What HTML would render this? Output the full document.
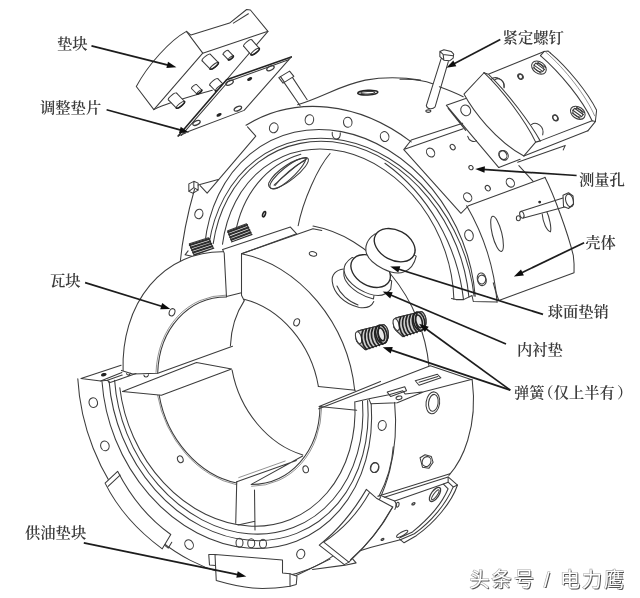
<!DOCTYPE html>
<html lang="zh"><head><meta charset="utf-8"><title>轴承结构图</title>
<style>
html,body{margin:0;padding:0;background:#fff}
svg{display:block}
.l path,.l ellipse,.l circle,.l line,.l polyline,.l polygon,.l rect{fill:none;stroke:#3c3c3c;stroke-width:1.05;vector-effect:non-scaling-stroke;stroke-linecap:round;stroke-linejoin:round}
.l .w{fill:#fff}
.l .k{stroke:#222;stroke-width:1.6}
.l .t{stroke-width:0.7;stroke:#666}
.lab{font-family:"Liberation Serif","Noto Serif CJK SC",serif;font-size:15.3px;font-weight:600;fill:#3a3a3a}
.wm{font-family:"Liberation Sans","Noto Sans CJK SC",sans-serif;font-size:20px}
</style></head><body>
<svg width="640" height="598" viewBox="0 0 640 598">
<rect width="640" height="598" fill="#fff"/>
<defs><filter id="lb" x="0" y="0" width="100%" height="100%"><feGaussianBlur stdDeviation="0.35"/></filter></defs>
<g class="l" filter="url(#lb)">
<g transform="translate(0,0) scale(1.00000,1.00000)">
<path d="M246.0,125.3 A190.0,154.0 -113.4 0 1 411.2,141.9"/>
<path d="M466.7,205.8 A190.0,154.0 -113.4 0 1 497.1,302.1"/>
<path d="M194.6,189 C188.5,210 182.5,238 180,264"/>
<path d="M204.7,244.6 A161.3,130.7 -113.4 0 1 475.2,296.2"/>
<path d="M209.0,243.9 A159.0,128.9 -113.4 0 1 474.1,296.1"/>
<path d="M213.2,243.6 A153.1,124.1 -113.4 0 1 468.9,297.0"/>
<path d="M222.5,244.2 A137.9,111.8 -113.4 0 1 453.9,299.3"/>
<path d="M235.1,234.7 A129.3,104.8 -113.4 0 1 300.8,154.3"/>
<path d="M384.9,163.2 A164.3,133.2 -113.4 0 1 463.5,299.6"/>
<path d="M451.5,298.6 L456,299.6 L463.5,299.6 L472,295.5 L473.3,301.5 L497,302"/>
</g>
<g transform="translate(120,0) scale(0.25078,0.25084)">
<path d="M265,125 C200,160 110,260 65,345 L135,437 L330,212 Z"/>
<path d="M265,125 L283,140 L437,92 L505,38 L520,40 L590,125 L330,212"/>
<path d="M452,92 L512,55"/>
<path d="M135,437 C200,405 300,380 368,360"/>
<path d="M590,125 L425,318"/>
</g>
<g transform="translate(0,0) scale(1.00000,1.00000)">
<g style="stroke-width:1.25">
<ellipse class="w" cx="206.3" cy="57.6" rx="5.3" ry="1.5" transform="rotate(-38.5 206.3 57.6)"/>
<path class="w" style="stroke:none" d="M210.4,54.3 L202.2,60.9 L210.2,69.2 L218.4,62.6 Z"/>
<path d="M210.4,54.3 L218.4,62.6 M202.2,60.9 L210.2,69.2"/>
<ellipse class="w" cx="214.3" cy="65.9" rx="5.3" ry="1.5" transform="rotate(-38.5 214.3 65.9)"/>
<path class="k" d="M218.4,62.6 A5.3,1.5 -38.5 0 1 210.2,69.2"/>
<ellipse class="w" cx="225.6" cy="52.4" rx="3.1" ry="0.9" transform="rotate(-38.5 225.6 52.4)"/>
<path class="w" style="stroke:none" d="M228.1,50.4 L223.1,54.4 L228.4,59.9 L233.4,55.9 Z"/>
<path d="M228.1,50.4 L233.4,55.9 M223.1,54.4 L228.4,59.9"/>
<ellipse class="w" cx="230.9" cy="57.9" rx="3.1" ry="0.9" transform="rotate(-38.5 230.9 57.9)"/>
<path class="k" d="M233.4,55.9 A3.1,0.9 -38.5 0 1 228.4,59.9"/>
<ellipse class="w" cx="247.7" cy="43.0" rx="5.2" ry="1.5" transform="rotate(-38.5 247.7 43.0)"/>
<path class="w" style="stroke:none" d="M251.8,39.8 L243.6,46.2 L251.1,54.8 L259.3,48.4 Z"/>
<path d="M251.8,39.8 L259.3,48.4 M243.6,46.2 L251.1,54.8"/>
<ellipse class="w" cx="255.2" cy="51.6" rx="5.2" ry="1.5" transform="rotate(-38.5 255.2 51.6)"/>
<path class="k" d="M259.3,48.4 A5.2,1.5 -38.5 0 1 251.1,54.8"/>
<ellipse class="w" cx="172.5" cy="96.5" rx="5.3" ry="1.5" transform="rotate(-38.5 172.5 96.5)"/>
<path class="w" style="stroke:none" d="M176.6,93.2 L168.4,99.8 L176.4,108.1 L184.6,101.5 Z"/>
<path d="M176.6,93.2 L184.6,101.5 M168.4,99.8 L176.4,108.1"/>
<ellipse class="w" cx="180.5" cy="104.8" rx="5.3" ry="1.5" transform="rotate(-38.5 180.5 104.8)"/>
<path class="k" d="M184.6,101.5 A5.3,1.5 -38.5 0 1 176.4,108.1"/>
<ellipse class="w" cx="194.0" cy="86.5" rx="3.1" ry="0.9" transform="rotate(-38.5 194.0 86.5)"/>
<path class="w" style="stroke:none" d="M196.5,84.5 L191.5,88.5 L196.8,94.0 L201.8,90.0 Z"/>
<path d="M196.5,84.5 L201.8,90.0 M191.5,88.5 L196.8,94.0"/>
<ellipse class="w" cx="199.3" cy="92.0" rx="3.1" ry="0.9" transform="rotate(-38.5 199.3 92.0)"/>
<path class="k" d="M201.8,90.0 A3.1,0.9 -38.5 0 1 196.8,94.0"/>
<ellipse class="w" cx="213.8" cy="81.9" rx="5.1" ry="1.4" transform="rotate(-38.5 213.8 81.9)"/>
<path class="w" style="stroke:none" d="M217.8,78.7 L209.8,85.1 L215.5,91.0 L223.5,84.6 Z"/>
<path d="M217.8,78.7 L223.5,84.6 M209.8,85.1 L215.5,91.0"/>
<ellipse class="w" cx="219.5" cy="87.8" rx="5.1" ry="1.4" transform="rotate(-38.5 219.5 87.8)"/>
<path class="k" d="M223.5,84.6 A5.1,1.4 -38.5 0 1 215.5,91.0"/>
</g>
</g>
<g transform="translate(120,0) scale(0.25078,0.25084)">
<path class="w" style="stroke:none" d="M232,542 L425,318 L683,227 L495,440 L270,525 Z"/>
<!-- shim -->
<path class="k" d="M232,542 L425,318 L683,227"/>
<path d="M245,540 L432,325 L672,238"/>
<path d="M232,542 L262,530"/>
<path d="M270,525 L495,440 L683,227"/>
<ellipse style="stroke-width:1.3" cx="437" cy="330" rx="16" ry="8" transform="rotate(-28 437 330)"/>
<ellipse style="stroke-width:1.3" cx="600" cy="272" rx="16" ry="8" transform="rotate(-28 600 272)"/>
<ellipse style="stroke-width:1.3" cx="305" cy="490" rx="16" ry="8" transform="rotate(-28 305 490)"/>
<ellipse style="stroke-width:1.3" cx="470" cy="433" rx="16" ry="8" transform="rotate(-28 470 433)"/>
<ellipse class="k" cx="517" cy="315" rx="8" ry="3" transform="rotate(-28 517 315)"/>
<ellipse class="k" cx="395" cy="458" rx="8" ry="3" transform="rotate(-28 395 458)"/>
</g>
<g transform="translate(260,40) scale(0.25078,0.25084)">
<!-- bolt -->
<path d="M75,150 L118,124 L135,145 L92,172 Z M82,146 L97,168 M95,168 L160,262 M130,150 L188,238"/>
<!-- body top silhouette -->
<path d="M150,258 C250,228 320,180 420,160 C490,147 570,148 640,160"/>
<ellipse class="k" cx="430" cy="210" rx="40" ry="9" transform="rotate(-3 430 210)"/>
<ellipse cx="430" cy="210" rx="28" ry="5" transform="rotate(-3 430 210)"/>
<!-- flange outer arc -->
<!-- holes -->
<ellipse cx="55" cy="350" rx="17" ry="20" transform="rotate(15 55 350)"/>
<ellipse cx="197" cy="318" rx="17" ry="20" transform="rotate(10 197 318)"/>
<ellipse cx="350" cy="328" rx="17" ry="20" transform="rotate(-5 350 328)"/>
<ellipse cx="497" cy="385" rx="17" ry="20" transform="rotate(-15 497 385)"/>
<path d="M288,368 C286,385 295,395 305,395 C315,395 322,385 320,370"/>
<!-- slot -->
<path d="M185,470 C140,470 60,520 35,570 C30,590 50,600 70,590 C110,570 175,510 185,470 Z"/>
<path d="M60,580 C90,540 140,500 180,480"/>
</g>
<g transform="translate(400,0) scale(0.25078,0.25084)">
<!-- bolt -->
<path d="M159,205 L175,198 L204,205 L214,216 L212,232 L199,242 L175,240 L159,226 Z M159,205 L172,217 L212,222 M172,217 L175,240 M164,234 L105,421 M193,245 L140,426 M105,421 C108,436 130,438 140,426"/>
<ellipse cx="113" cy="443" rx="10" ry="5"/>
<!-- shell silhouette -->
<path d="M0,316 C50,314 95,320 130,334 M157,346 C190,358 225,372 252,386"/>
<!-- shim plate -->
<path d="M185,420 L262,393 M185,420 L394,668 M192,432 L262,520"/>
<ellipse cx="262" cy="440" rx="19" ry="22" transform="rotate(-30 262 440)"/>
<!-- flat -->
<!-- block -->
<path d="M335,290 L255,375 C290,440 380,560 494,622"/>
<path d="M335,290 L352,296 L575,205 L590,203 L600,212"/>
<path d="M575,205 L560,222"/>
<ellipse cx="482" cy="306" rx="9" ry="11" transform="rotate(-30 482 306)"/>
<ellipse cx="620" cy="470" rx="10" ry="13" transform="rotate(-30 620 470)"/>
<path d="M378,318 C395,305 420,325 415,350"/>
</g>
<g transform="translate(480,30) scale(0.25078,0.25084)">
<path d="M281,92 C350,150 430,250 465,320 L460,365 L430,402"/>
<path d="M241,102 C320,170 410,280 447,362"/>
<path class="t" d="M262,88 C340,155 425,265 457,342"/>
<path d="M240,442 L447,362 L460,365"/>
<path d="M175,502 L430,402"/>
<path d="M16,170 C90,240 180,360 222,447 L240,442"/>
<path d="M35,178 C110,250 200,370 240,442"/>
<path d="M222,447 L175,502"/>
<path d="M45,197 C60,180 98,195 96,228"/>
<path d="M205,377 C225,362 258,385 250,418"/>
<g><ellipse cx="235" cy="150" rx="32" ry="23" transform="rotate(35 235 150)"/><ellipse cx="235" cy="150" rx="22" ry="14" transform="rotate(35 235 150)"/><path d="M215,140 L250,165 M222,132 L258,158 M212,150 L243,172 M230,128 L262,150"/></g>
<g><ellipse cx="390" cy="330" rx="32" ry="23" transform="rotate(35 390 330)"/><ellipse cx="390" cy="330" rx="22" ry="14" transform="rotate(35 390 330)"/><path d="M370,320 L405,345 M377,312 L413,338 M367,330 L398,352 M385,308 L417,330"/></g>
<ellipse cx="160" cy="185" rx="9" ry="11" transform="rotate(-30 160 185)"/>
<ellipse cx="300" cy="350" rx="9" ry="11" transform="rotate(-30 300 350)"/>
<ellipse cx="95" cy="500" rx="17" ry="20" transform="rotate(-30 95 500)"/>
<path d="M150,527 L340,460 L332,478 M75,548 L160,515"/>
</g>
<g transform="translate(400,130) scale(0.25078,0.25084)">
<!-- flat with wall -->
<path d="M15,78 L45,40 L250,-27 M15,78 L252,-5 M15,78 L243,332 L273,302 L578,189"/>
<path d="M474,142 L531,205"/>
<ellipse cx="122" cy="90" rx="15" ry="19" transform="rotate(-35 122 90)"/>
<ellipse cx="210" cy="68" rx="9" ry="12" transform="rotate(-35 210 68)"/>
<ellipse cx="283" cy="150" rx="8" ry="9" transform="rotate(-35 283 150)"/>
<ellipse cx="270" cy="268" rx="15" ry="19" transform="rotate(-35 270 268)"/>
<ellipse cx="350" cy="232" rx="9" ry="12" transform="rotate(-35 350 232)"/>
<ellipse cx="440" cy="210" rx="15" ry="19" transform="rotate(-35 440 210)"/>
<ellipse cx="410" cy="100" rx="15" ry="19" transform="rotate(-35 410 100)"/>
<path d="M270,25 C275,45 295,50 305,42"/>
<!-- flange right side -->
<ellipse cx="275" cy="420" rx="17" ry="22" transform="rotate(-15 275 420)"/>
<ellipse cx="325" cy="592" rx="17" ry="22" transform="rotate(-10 325 592)"/>
<!-- slots -->
<ellipse cx="387" cy="414" rx="19" ry="72" transform="rotate(-14 387 414)"/>
<path d="M567,335 C570,370 585,400 600,406 C605,390 595,345 585,325"/>
<!-- side bolt -->
<path class="w" d="M481,325 L653,270 L660,306 L492,351 Z"/>
<ellipse class="w" cx="486" cy="338" rx="8" ry="14" transform="rotate(-18 486 338)"/>
<ellipse cx="472" cy="352" rx="8" ry="10"/>
<path class="w" d="M650,260 L672,250 L690,263 L692,295 L672,313 L652,305 Z"/>
<ellipse cx="676" cy="281" rx="15" ry="26" transform="rotate(-15 676 281)"/>
</g>
<g transform="translate(480,170) scale(0.25078,0.25084)">
<path d="M259,29 C295,100 350,250 372,340 C376,370 376,390 375,410 L75,520"/>
<path d="M53,450 C60,480 68,500 75,520"/>
<circle cx="238" cy="128" r="2.5" class="k"/>
<ellipse cx="8" cy="440" rx="17" ry="21" transform="rotate(-10 8 440)"/>
</g>
<g transform="translate(160,150) scale(0.25078,0.25084)">
<!-- bolt head + V -->
<path d="M115,135 L135,125 L152,132 L152,160 L132,172 L115,165 Z M135,125 L135,150 L115,165 M135,150 L152,160"/>
<path d="M152,140 L232,118 M160,142 L188,172 L382,-55 L349,-92"/>
<ellipse cx="155" cy="255" rx="16" ry="19" transform="rotate(15 155 255)"/>
<!-- springs -->
<g class="spr">
<path class="w" d="M117,374 L193,350 L215,398 L139,424 Z"/>
<path style="stroke-width:2.1;stroke:#2e2e2e" d="M119.2,379.0 L195.2,354.8 M123.6,389.0 L199.6,364.4 M128.0,399.0 L204.0,374.0 M132.4,409.0 L208.4,383.6 M136.8,419.0 L212.8,393.2"/>
<path class="w" d="M270,322 L345,294 L368,344 L290,373 Z"/>
<path style="stroke-width:2.1;stroke:#2e2e2e" d="M272.0,327.1 L347.3,299.0 M276.0,337.3 L351.9,309.0 M280.0,347.5 L356.5,319.0 M284.0,357.7 L361.1,329.0 M288.0,367.9 L365.7,339.0"/>
<path d="M112,402 L100,418 L128,424"/>
</g>
<ellipse class="k" cx="415" cy="256" rx="5" ry="11" transform="rotate(20 415 256)"/>
<!-- slot -->
<ellipse cx="515" cy="92" rx="95" ry="27" transform="rotate(-38 515 92)"/>
<path d="M455,140 C490,110 540,60 585,35"/>
<!-- bore edge -->
<path d="M678,14 C630,70 570,200 550,306 L548,332"/>
</g>
<g transform="translate(0,0) scale(1.00000,1.00000)">
<path d="M266.4,230.1 L275.9,227.7 L285.6,226.3 L295.6,225.9 L305.7,226.5 L315.8,228.2 L326.0,230.9 L336.0,234.5 L345.8,239.1 L355.4,244.6 L364.6,251.0 L373.4,258.3 L381.8,266.3 L389.7,275.0 L396.9,284.4 L403.5,294.3 L409.4,304.7 L414.6,315.6 L419.0,326.8 L422.5,338.2 L425.3,349.9 L427.1,361.6 L428.1,373.2 L428.2,384.8 L427.5,396.2 L425.8,407.3 L423.3,418.1 L419.9,428.4 L415.7,438.2 L410.7,447.4 L405.0,455.9 L398.6,463.7 L391.5,470.7 L383.8,476.9 L375.5,482.2 L366.8,486.5 L357.6,489.9 L284.9,515.7 L275.4,518.1 L265.7,519.5 L255.7,519.9 L245.6,519.3 L235.5,517.6 L225.3,514.9 L215.3,511.3 L205.5,506.7 L195.9,501.2 L186.7,494.8 L177.9,487.5 L169.5,479.5 L161.6,470.8 L154.4,461.4 L147.8,451.5 L141.9,441.1 L136.7,430.2 L132.3,419.0 L128.8,407.6 L126.0,395.9 L124.2,384.2 L123.2,372.6 L123.1,361.0 L123.8,349.6 L125.5,338.5 L128.0,327.7 L131.4,317.4 L135.6,307.6 L140.6,298.4 L146.3,289.9 L152.7,282.1 L159.8,275.1 L167.5,268.9 L175.8,263.6 L184.5,259.3 L193.7,255.9 Z" style="fill:#fff;stroke:none"/>
<path d="M394.6,402.4 A188.6,152.9 -113.4 1 1 77.8,378.7"/>
<path d="M371.2,403.8 A160.1,129.8 -113.4 1 1 102.0,381.5"/>
<path d="M367.6,400.5 A153.9,124.7 -113.4 1 1 109.1,381.4"/>
<path d="M362.5,401.2 A147.4,119.5 -113.4 1 1 114.6,380.2"/>
<path d="M354.8,401.8 A140.1,113.6 -113.4 0 1 119.8,387.7"/>
<path d="M123.1,370.6 A137.9,111.8 -113.4 0 1 223.0,251.7"/>
<path d="M241.5,253.7 A137.9,111.8 -113.4 0 1 354.7,390.2"/>
<path d="M157.7,372.9 A96.3,78.1 -113.4 0 1 226.6,297.0"/>
<path class="t" d="M156.0,372.5 A98.3,79.7 -113.4 0 1 226.3,295.1"/>
<path d="M244.1,299.3 A96.3,78.1 -113.4 0 1 318.4,386.4"/>
<path d="M320.0,406.7 A96.3,78.1 -113.4 0 1 251.3,484.4"/>
<path class="t" d="M321.7,407.0 A98.3,79.7 -113.4 0 1 251.6,486.3"/>
<path d="M236.7,482.9 A96.3,78.1 -113.4 0 1 159.2,395.3"/>
<path class="t" d="M236.6,484.8 A98.3,79.7 -113.4 0 1 157.6,395.4"/>
<path d="M230.4,345.8 A96.3,78.1 -113.4 0 1 244.3,300.6"/>
<path d="M302.8,454.9 A96.3,78.1 -113.4 0 1 232.1,370.1"/>
<path d="M313.0,226.1 A139.5,113.1 -113.4 0 1 428.9,365.6"/>
<path d="M121.4,370.4 L132.7,373.9 L157.8,373.2 L232.5,346.3 M122.5,391.5 L161.4,395.2 L231.6,368.9 L196.5,362.6 L122.5,391.5 M318.3,386.4 L355.4,390.2 M319.1,406.5 L356.7,410.3 M319.1,406.5 L380.5,381.4"/>
</g>
<g transform="translate(160,220) scale(0.25078,0.25084)">
<path d="M250,118 L520,28 L545,55 L325,135"/>
<path d="M250,118 L256,132 L265,305 L325,290"/>
<path d="M325,135 L325,300 L335,320"/>
<path d="M325,135 L610,35 L645,42"/>
<ellipse cx="48" cy="368" rx="11" ry="15" transform="rotate(20 48 368)"/>
<ellipse cx="545" cy="408" rx="11" ry="15" transform="rotate(20 545 408)"/>
<ellipse cx="610" cy="135" rx="15" ry="9" transform="rotate(15 610 135)"/>
</g>
<g transform="translate(70,355) scale(0.15723,0.15719)">
<path d="M70,150 L325,65 M70,150 L195,165 L330,112"/>
<ellipse class="k" cx="215" cy="125" rx="13" ry="5" transform="rotate(-15 215 125)"/>
<path d="M195,165 L238,160 L250,176 L298,160 L332,150 M238,160 L332,128 M298,160 L420,118 M360,118 C362,130 380,130 384,116"/>
<path d="M470,128 C472,145 495,145 500,125"/>
<ellipse cx="148" cy="303" rx="27" ry="31" transform="rotate(-15 148 303)"/>
<ellipse cx="222" cy="578" rx="27" ry="31" transform="rotate(-20 222 578)"/>
</g>
<g transform="translate(80,448) scale(0.25078,0.25084)">
<path class="w" d="M100,140 L150,93 C200,190 270,280 362,345 L328,402 C230,330 150,240 100,140 Z"/>
<path d="M112,153 L160,108 M338,388 L352,399 L366,376"/>
<ellipse cx="435" cy="385" rx="16" ry="20" transform="rotate(-30 435 385)"/>
<ellipse cx="400" cy="45" rx="11" ry="14" transform="rotate(-20 400 45)"/>
<path d="M625,135 L621,300"/>
</g>
<g transform="translate(180,490) scale(0.25000,0.25000)">
<path class="w" d="M140,258 L410,280 L410,332 L440,335 L468,345 L465,378 L440,385 C390,392 330,396 290,392 C240,388 190,375 145,362 Z"/>
<path d="M440,335 L440,385 M115,258 L140,258 M115,258 L118,300 L142,302"/>
<ellipse cx="238" cy="211" rx="14" ry="18"/>
<ellipse cx="285" cy="213" rx="14" ry="18"/>
<ellipse cx="332" cy="215" rx="14" ry="18"/>
<ellipse cx="483" cy="256" rx="16" ry="19" transform="rotate(20 483 256)"/>
<path d="M298,0 L300,160 M232,140 L300,125"/>
</g>
<g transform="translate(320,300) scale(0.25078,0.25084)">
<path d="M-5,434 L440,262 L605,318"/>
<!-- top face details -->
<path d="M142,406 L195,394 L275,378 L330,362 L340,375 L414,366 M195,394 L203,414 L308,410 L414,366 L607,316"/>
<path d="M380,322 L468,296 L482,310 L395,340 Z M395,328 L470,305"/>
<path d="M268,367 L338,346 L345,362 L282,385 Z"/>
<ellipse cx="315" cy="390" rx="12" ry="7" transform="rotate(-15 315 390)"/>
<ellipse cx="450" cy="410" rx="27" ry="44" transform="rotate(8 450 410)"/>
<ellipse cx="452" cy="410" rx="19" ry="34" transform="rotate(8 452 410)"/>
<ellipse cx="248" cy="500" rx="16" ry="20" transform="rotate(10 248 500)"/>
<!-- springs -->
<g>
<path class="w" style="fill:#cdcdcd" d="M150,125 C140,135 140,160 152,172 L180,198 L262,170 C280,150 275,110 255,98 L165,120 Z"/>
<path d="M150,125 C140,135 140,160 152,172 L180,198 L262,170 C280,150 275,110 255,98 L165,120 Z"/>
<ellipse class="w" cx="154" cy="150" rx="11" ry="24" transform="rotate(-15 154 150)"/>
<path class="k" d="M172,120 C160,145 168,180 185,197 M185,117 C173,142 181,177 198,193 M198,114 C186,139 194,173 211,189 M211,111 C199,136 207,169 224,185 M224,107 C212,132 220,165 237,181 M237,104 C225,128 233,161 250,176"/>
<ellipse class="k" cx="245" cy="137" rx="22" ry="38" transform="rotate(-15 245 137)"/>
<ellipse class="k" style="fill:#e8e8e8" cx="245" cy="137" rx="12" ry="26" transform="rotate(-15 245 137)"/>
</g>
<g transform="translate(150,-52)">
<path class="w" style="fill:#cdcdcd" d="M150,125 C140,135 140,160 152,172 L180,198 L262,170 C280,150 275,110 255,98 L165,120 Z"/>
<path d="M150,125 C140,135 140,160 152,172 L180,198 L262,170 C280,150 275,110 255,98 L165,120 Z"/>
<ellipse class="w" cx="154" cy="150" rx="11" ry="24" transform="rotate(-15 154 150)"/>
<path class="k" d="M172,120 C160,145 168,180 185,197 M185,117 C173,142 181,177 198,193 M198,114 C186,139 194,173 211,189 M211,111 C199,136 207,169 224,185 M224,107 C212,132 220,165 237,181 M237,104 C225,128 233,161 250,176"/>
<ellipse class="k" cx="245" cy="137" rx="22" ry="38" transform="rotate(-15 245 137)"/>
<ellipse class="k" style="fill:#e8e8e8" cx="245" cy="137" rx="12" ry="26" transform="rotate(-15 245 137)"/>
</g>
</g>
<g transform="translate(400,370) scale(0.25078,0.25084)">
<path d="M288,40 C298,120 295,200 270,280 C255,330 235,375 195,420"/>
<path d="M80,350 L100,338 L125,345 L132,368 L115,392 L90,388 Z"/>
<ellipse cx="106" cy="365" rx="17" ry="20" transform="rotate(20 106 365)"/>
</g>
<g transform="translate(320,448) scale(0.25078,0.25084)">
<path d="M292,-5 C288,60 268,130 235,192"/>
<ellipse cx="217" cy="78" rx="16" ry="20" transform="rotate(15 217 78)"/>
<!-- oil pad block front -->
<path class="w" d="M185,165 L225,200 L290,235 L280,250 C235,330 175,400 115,455 L97,465 L-3,387 C70,330 135,250 185,165 Z"/>
<path d="M197,178 C150,262 90,325 15,375 L115,455 M290,235 C250,310 190,385 122,445"/>
<path d="M-95,508 L40,443 M-30,484 L100,467 L144,458 L130,442"/>
</g>
<g transform="translate(240,448) scale(0.25078,0.25084)">
<path d="M-13,135 L225,50 M45,145 L250,32"/>
<path class="t" d="M-5,118 L180,52"/>
<ellipse cx="262" cy="85" rx="11" ry="14" transform="rotate(-10 262 85)"/>
<ellipse cx="538" cy="78" rx="16" ry="20" transform="rotate(15 538 78)"/>
</g>
<g transform="translate(360,440) scale(0.18750,0.18760)">
<path d="M95,300 L480,180"/>
<path d="M130,305 L470,197 L520,240 C490,330 400,440 300,510 L235,548 L210,527"/>
<path d="M470,197 L470,225 L497,250 C460,340 380,435 290,500 L215,532"/>
<path d="M185,325 L445,235 L470,260 C435,345 360,425 280,490 L215,520"/>
<path d="M520,240 L497,250 M470,225 L445,235"/>
<path d="M120,300 L185,325 L196,346 L186,370"/>
<path d="M215,532 L60,572 L0,590"/>
<ellipse cx="400" cy="290" rx="20" ry="44" transform="rotate(35 400 290)" style="stroke-width:1.3"/>
<ellipse cx="402" cy="292" rx="9" ry="32" transform="rotate(35 402 292)"/>
<ellipse cx="285" cy="340" rx="9" ry="5" transform="rotate(-30 285 340)" style="stroke-width:1.3"/>
<ellipse cx="225" cy="500" rx="34" ry="10" transform="rotate(-30 225 500)"/>
<ellipse cx="120" cy="530" rx="8" ry="4" transform="rotate(-30 120 530)" style="stroke-width:1.3"/>
<ellipse cx="200" cy="345" rx="8" ry="13" transform="rotate(15 200 345)"/>
</g>
<g transform="translate(320,220) scale(0.15723,0.15719)">
<!-- pad hole -->
<path d="M150,312 C100,318 72,350 78,392 C86,462 150,535 250,556 C292,562 328,550 342,518"/>
<path d="M108,420 C128,470 180,520 242,540"/>
<!-- lower pin boss -->
<path class="w" d="M153,322 C148,348 152,368 166,390 C200,444 272,486 340,502 L345,470 L205,260 Z"/>
<!-- lower pin disc -->
<path class="w" d="M205,238 C170,262 150,292 153,322 C160,382 232,442 312,470 C372,490 420,482 450,440 L456,388 Z"/>
<ellipse class="w" cx="322" cy="325" rx="135" ry="92" transform="rotate(30 322 325)" style="stroke-width:1.35;stroke:#2a2a2a"/>
<!-- upper pin -->
<path class="w" d="M350,88 C300,120 282,170 296,215 C310,250 350,285 400,310 C450,335 500,345 535,330 C575,315 600,285 612,230 Z"/>
<ellipse class="w" cx="475" cy="160" rx="138" ry="95" transform="rotate(28 475 160)" style="stroke-width:1.35;stroke:#2a2a2a"/>
</g>
</g>
<defs><filter id="bl" x="-5%" y="-5%" width="110%" height="110%"><feGaussianBlur stdDeviation="0.45"/></filter><filter id="sh" x="-10%" y="-20%" width="120%" height="140%"><feGaussianBlur stdDeviation="0.6"/></filter></defs>
<g filter="url(#bl)">
<line x1="91.5" y1="45.9" x2="169.1" y2="65.4" stroke="#1c1c1c" stroke-width="1.7"/>
<polygon points="176.4,67.2 166.4,68.1 168.0,61.7" fill="#111"/>
<line x1="106.6" y1="109.8" x2="181.8" y2="130.4" stroke="#1c1c1c" stroke-width="1.7"/>
<polygon points="189.0,132.4 179.0,133.1 180.7,126.7" fill="#111"/>
<line x1="500.3" y1="39.6" x2="453.1" y2="64.2" stroke="#1c1c1c" stroke-width="1.7"/>
<polygon points="446.4,67.7 453.3,60.4 456.3,66.2" fill="#111"/>
<line x1="576.6" y1="175.5" x2="482.7" y2="169.4" stroke="#1c1c1c" stroke-width="1.7"/>
<polygon points="475.2,168.9 484.9,166.2 484.5,172.8" fill="#111"/>
<line x1="584.1" y1="242.7" x2="520.7" y2="273.3" stroke="#1c1c1c" stroke-width="1.7"/>
<polygon points="513.9,276.6 521.0,269.5 523.9,275.4" fill="#111"/>
<line x1="85.1" y1="282.6" x2="163.1" y2="306.7" stroke="#1c1c1c" stroke-width="1.7"/>
<polygon points="170.3,308.9 160.2,309.3 162.2,302.9" fill="#111"/>
<line x1="543.0" y1="314.4" x2="397.4" y2="268.8" stroke="#1c1c1c" stroke-width="1.7"/>
<polygon points="390.2,266.6 400.3,266.3 398.3,272.6" fill="#111"/>
<line x1="506.0" y1="344.0" x2="389.6" y2="294.5" stroke="#1c1c1c" stroke-width="1.7"/>
<polygon points="382.7,291.6 392.7,292.3 390.2,298.4" fill="#111"/>
<line x1="510.3" y1="390.1" x2="425.2" y2="328.2" stroke="#1c1c1c" stroke-width="1.7"/>
<polygon points="419.1,323.8 428.7,326.7 424.8,332.1" fill="#111"/>
<line x1="510.3" y1="390.1" x2="389.8" y2="349.6" stroke="#1c1c1c" stroke-width="1.7"/>
<polygon points="382.7,347.2 392.8,347.1 390.7,353.4" fill="#111"/>
<line x1="83.8" y1="542.8" x2="239.0" y2="574.9" stroke="#1c1c1c" stroke-width="1.7"/>
<polygon points="246.3,576.4 236.3,577.7 237.7,571.2" fill="#111"/>
</g>
<g class="lab" filter="url(#bl)">
<text x="57.0" y="48.6">垫块</text>
<text x="40.0" y="113.2">调整垫片</text>
<text x="502.6" y="42.8">紧定螺钉</text>
<text x="579.0" y="185.3">测量孔</text>
<text x="585.3" y="248.0">壳体</text>
<text x="50.0" y="286.3">瓦块</text>
<text x="547.7" y="317.0">球面垫销</text>
<text x="517.0" y="355.3">内衬垫</text>
<text x="25.0" y="538.3">供油垫块</text>
<text x="514 529.3 538.3 553.6 569 584.3 599.6 617" y="397.5">弹簧（仅上半有）</text>
</g>
<g class="wm">
<g filter="url(#sh)" fill="#aaa" stroke="#aaa" stroke-width="1.2"><text x="469.5 491.5 514.0 536.0 544.0 552.0 560.0 582.0 604.0" y="586.5">头条号 / 电力鹰</text></g>
<g filter="url(#bl)" fill="#555"><text x="470.5 492.5 515.0 537.0 545.0 553.0 561.0 583.0 605.0" y="587.5">头条号 / 电力鹰</text></g>
<g fill="#fff"><text x="469.5 491.5 514.0 536.0 544.0 552.0 560.0 582.0 604.0" y="586.5">头条号 / 电力鹰</text></g>
</g>

</svg>
</body></html>
